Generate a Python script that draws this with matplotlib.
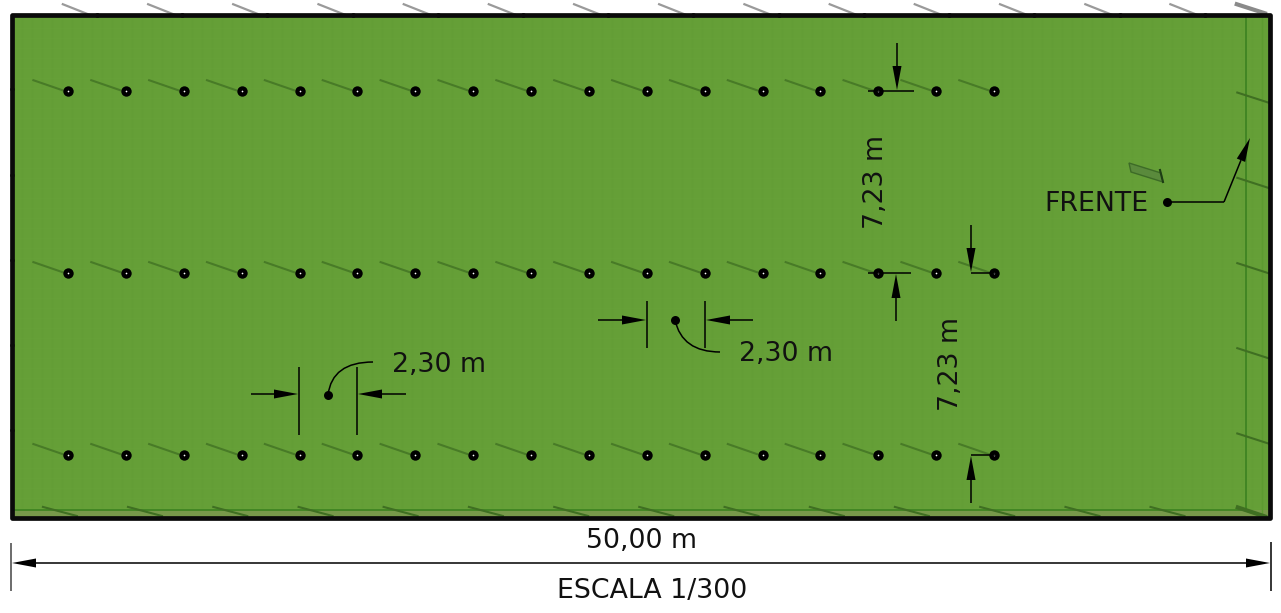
import math

from matplotlib import pyplot as plt
from matplotlib.patches import PathPatch, Polygon, Rectangle
from matplotlib.path import Path
from matplotlib.transforms import Affine2D

WIDTH = 1281
HEIGHT = 613
PX_PER_M = 25.16

# planted field in metres, origin at the lower left corner of the plot
field_width = 50.0
field_depth = 20.0
tree_x = [2.23, 4.53, 6.83, 9.13, 11.43, 13.73, 16.03, 18.33, 20.63,
          22.93, 25.23, 27.53, 29.83, 32.13, 34.43, 36.73, 39.03]
tree_rows = [2.50, 9.73, 16.96]
top_post_x = [3.38, 6.77, 10.15, 13.54, 16.93, 20.31, 23.70, 27.08,
              30.47, 33.86, 37.24, 40.63, 44.02, 47.40]
bottom_post_x = [2.53, 5.91, 9.30, 12.69, 16.07, 19.46, 22.85, 26.23,
                 29.62, 33.01, 36.39, 39.78, 43.17, 46.55]
side_post_y = [16.49, 13.10, 9.71, 6.33, 2.94]

GRASS = "#659f37"
DARK = "#3f6f22"

fig = plt.figure(figsize=(WIDTH / 100, HEIGHT / 100), dpi=100)
ax = fig.add_axes([0, 0, 1, 1])
ax.set_xlim(-12 / PX_PER_M, (WIDTH - 12) / PX_PER_M)
ax.set_ylim((518 - HEIGHT) / PX_PER_M, 518 / PX_PER_M)
ax.axis("off")

# pixel coordinates (y going down) for the drawing annotations
px = Affine2D().scale(1 / WIDTH, -1 / HEIGHT).translate(0, 1) + fig.transFigure


def to_m(p):
    return p / PX_PER_M


ax.add_patch(Rectangle((0, 0), field_width, field_depth, fc=GRASS, ec="none", zorder=0))

# grass texture
for i in range(1, 126):
    ax.plot([to_m(i * 10)] * 2, [0, field_depth], color="#4f8a28", lw=0.8, alpha=0.06, zorder=1)
for i in range(1, 51):
    ax.plot([0, field_width], [to_m(i * 10)] * 2, color="#7db84a", lw=0.8, alpha=0.08, zorder=1)

# headland strips at the bottom and right
ax.add_patch(Rectangle((0, 0), field_width, to_m(8), fc="#77994a", ec="none", zorder=1))
ax.plot([0, to_m(1234)], [to_m(8)] * 2, color="#3f8422", lw=1.3, zorder=2)
ax.plot([to_m(1234)] * 2, [to_m(8), field_depth], color="#3f8422", lw=1.3, zorder=2)
ax.plot([to_m(1250)] * 2, [to_m(3), field_depth], color="#5c9a30", lw=1.0, zorder=2)
ax.plot([to_m(1234), field_width], [to_m(8), 0], color="#3f8422", lw=1.0, zorder=2)

# tree shadows and trunks
for y in tree_rows:
    for x in tree_x:
        ax.plot([x - 1.38, x - 0.22], [y + 0.44, y + 0.04], color=DARK, lw=1.5, alpha=0.75, zorder=3)
    ax.scatter(tree_x, [y] * len(tree_x), s=56, color="black", lw=0, zorder=4)
    ax.scatter(tree_x, [y] * len(tree_x), s=1.5, color="white", lw=0, zorder=5)

# border post shadows
for x in top_post_x:
    ax.plot([x - 1.36, x - 0.3], [field_depth + 0.42, field_depth], color="#9a9a9a", lw=1.6, zorder=3)
    ax.scatter([x], [field_depth - 0.02], s=12, color="black", lw=0, zorder=6)
for x in bottom_post_x:
    ax.plot([x - 1.3, x + 0.05], [0.44, 0.08], color=DARK, lw=1.5, zorder=3)
for y in side_post_y:
    ax.plot([field_width - 1.3, field_width], [y + 0.42, y], color=DARK, lw=1.5, zorder=3)
    ax.scatter([0], [y + 0.55], s=10, color="black", lw=0, zorder=6)

# corner posts
ax.plot([field_width - 1.32, field_width - 0.2], [field_depth + 0.42, field_depth + 0.06],
        color="#8a8a8a", lw=3, zorder=3)
ax.plot([field_width - 1.28, field_width - 0.2], [0.42, 0.06], color=DARK, lw=3, zorder=3)

# small shed shadow near the front label
ax.add_patch(Polygon([(1129, 163), (1161, 173), (1163, 182), (1131, 172)], closed=True,
                     fc="#5a8a3c", ec="#3d6b27", lw=1.0, transform=px, zorder=3))
ax.plot([1160, 1163], [170, 182], color="#1d3d14", lw=1.5, transform=px, zorder=3)

# plot boundary
ax.add_patch(Rectangle((0, 0), field_width, field_depth, fc="none", ec="#0a0a0a", lw=3.4,
                       zorder=7, joinstyle="round"))


def line(xs, ys, lw=1.1, color="black"):
    ax.plot(xs, ys, color=color, lw=lw, transform=px, zorder=8, clip_on=False,
            solid_capstyle="butt")


def arrow(start, end, head=24, half=4.5):
    # plain line with a solid triangle, the tip lands exactly on end
    length = math.hypot(end[0] - start[0], end[1] - start[1])
    ux = (end[0] - start[0]) / length
    uy = (end[1] - start[1]) / length
    bx = end[0] - ux * head
    by = end[1] - uy * head
    line([start[0], bx], [start[1], by])
    ax.add_patch(Polygon([end, (bx - uy * half, by + ux * half), (bx + uy * half, by - ux * half)],
                         closed=True, fc="black", ec="none", transform=px, zorder=8, clip_on=False))


def curve(start, ctrl, end):
    path = Path([start, ctrl, end], [Path.MOVETO, Path.CURVE3, Path.CURVE3])
    ax.add_patch(PathPatch(path, fc="none", ec="black", lw=1.1, transform=px, zorder=8))


def dot(x, y):
    ax.scatter([x], [y], s=42, color="black", lw=0, transform=px, zorder=9)


def label(x, y, text, rotation=0):
    ax.text(x, y, text, fontsize=19.3, family="DejaVu Sans", color="#111111", ha="center",
            va="center", rotation=rotation, transform=px, zorder=9)


# overall width
line([11, 11], [543, 591], color="#444444")
line([1271, 1271], [542, 591])
arrow((640, 563), (12, 563))
arrow((640, 563), (1270, 563))
label(641, 541, "50,00 m")
label(652, 591, "ESCALA 1/300")

# row spacing
line([868, 914], [91, 91])
arrow((897, 43), (897, 90))
line([868, 911], [273, 273])
arrow((896, 321), (896, 274))
label(876, 182, "7,23 m", rotation=90)
line([971, 996], [273, 273])
arrow((971, 225), (971, 272))
line([971, 996], [455, 455])
arrow((971, 503), (971, 456))
label(951, 364, "7,23 m", rotation=90)

# tree spacing, middle
line([647, 647], [301, 348])
line([705, 705], [301, 348])
arrow((598, 320), (646, 320))
arrow((753, 320), (706, 320))
dot(675, 320)
curve((675, 320), (682, 352), (720, 352))
label(786, 354, "2,30 m")

# tree spacing, left
line([299, 299], [367, 435])
line([357, 357], [367, 435])
arrow((251, 394), (298, 394))
arrow((406, 394), (358, 394))
dot(328, 395)
curve((328, 395), (332, 362), (373, 362))
label(439, 365, "2,30 m")

# front marker
label(1096, 204, "FRENTE")
dot(1167, 202)
line([1167, 1224], [202, 202])
arrow((1224, 202), (1250, 138))

fig.savefig("out.png", dpi=100)
